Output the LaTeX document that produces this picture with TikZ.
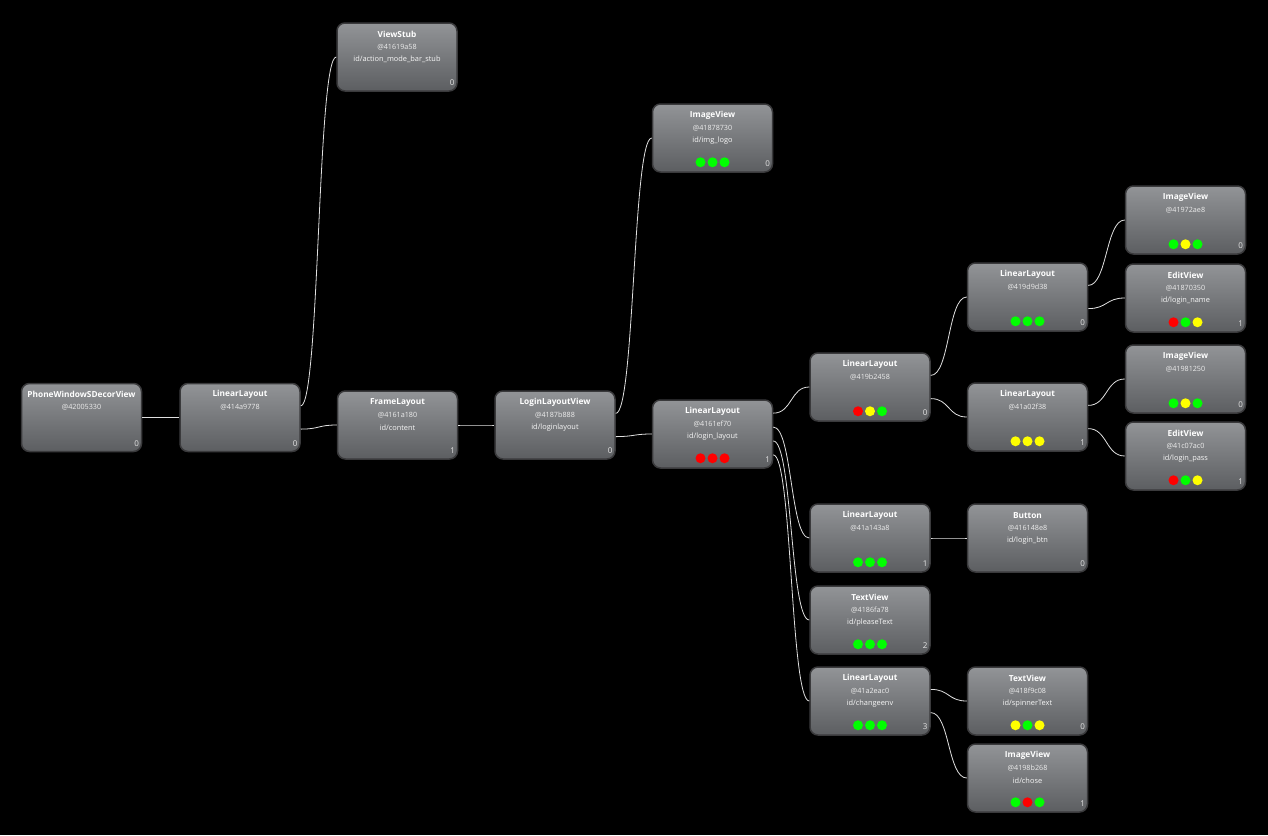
\documentclass[tikz,border=0pt]{standalone}
\usepackage{fontspec}
\setmainfont{Open Sans}
\usepackage{tikz}
\usetikzlibrary{calc}

\definecolor{boxtop}{RGB}{146,148,151}
\definecolor{boxbot}{RGB}{92,94,97}
\definecolor{boxrim}{RGB}{58,58,60}
\definecolor{ledgreen}{RGB}{0,255,0}
\definecolor{ledyellow}{RGB}{255,255,0}
\definecolor{ledred}{RGB}{255,0,0}

% one view box: name, centre, class, address, id, index
\newcommand{\viewnode}[6]{%
  \node[view] (#1) at (#2) {};
  \node[vtitle] (#1-t) at ([yshift=-12pt]#1.north) {#3};
  \node[vaddr] (#1-a) at ([yshift=-24.5pt]#1.north) {#4};
  \node[vid] (#1-i) at ([yshift=-37.5pt]#1.north) {#5};
  \node[vidx] (#1-n) at ([xshift=-3pt,yshift=9pt]#1.south east) {#6};
}
% three status lights under a view box
\newcommand{\lights}[2]{%
  \foreach \c [count=\k] in {#2}
    \fill[\c] ([xshift=(\k-2)*12pt,yshift=10.5pt]#1.south) circle (5pt);
}
% parent exit at a fraction of its right side, into the child's left side
\newcommand{\wireto}[3]{%
  \draw[wire] ($(#1.north east)!#2!(#1.south east)$)
    .. controls +(19,0) and +(-19,0) .. (#3.west);
}

\begin{document}
\begin{tikzpicture}[
    x=1pt, y=-1pt,
    view/.style={draw=boxrim, line width=1.5pt, rounded corners=8pt,
                 top color=boxtop, bottom color=boxbot,
                 minimum width=120pt, minimum height=68pt, inner sep=0pt},
    vtitle/.style={font=\fontsize{8.3}{9}\selectfont\bfseries, text=white, inner sep=0pt},
    vaddr/.style={font=\fontsize{7.2}{8}\selectfont, text=white!93!black, inner sep=0pt},
    vid/.style={font=\fontsize{7.4}{8}\selectfont, text=white!97!black, inner sep=0pt},
    vidx/.style={font=\fontsize{8}{9}\selectfont, text=white!90!black, anchor=east, inner sep=0pt},
    wire/.style={draw=white!88!black, line width=0.8pt}
]
\useasboundingbox[fill=black] (0,0) rectangle (1268,835);

\viewnode{phone}{81.5,417.5}{PhoneWindowSDecorView}{@42005330}{}{0}
\viewnode{decor}{240,417.5}{LinearLayout}{@414a9778}{}{0}
\viewnode{stub}{397,57}{ViewStub}{@41619a58}{id/action\_mode\_bar\_stub}{0}
\viewnode{content}{397.5,425}{FrameLayout}{@4161a180}{id/content}{1}
\viewnode{loginview}{555,425}{LoginLayoutView}{@4187b888}{id/loginlayout}{0}
\viewnode{logo}{712.5,138}{ImageView}{@41878730}{id/img\_logo}{0}
\viewnode{loginlay}{712.5,434}{LinearLayout}{@4161ef70}{id/login\_layout}{1}
\viewnode{fields}{870,387}{LinearLayout}{@419b2458}{}{0}
\viewnode{namerow}{1027.5,297}{LinearLayout}{@419d9d38}{}{0}
\viewnode{passrow}{1027.5,417}{LinearLayout}{@41a02f38}{}{1}
\viewnode{nameicon}{1185.5,220}{ImageView}{@41972ae8}{}{0}
\viewnode{nameedit}{1185.5,298}{EditView}{@41870350}{id/login\_name}{1}
\viewnode{passicon}{1185.5,379}{ImageView}{@41981250}{}{0}
\viewnode{passedit}{1185.5,456}{EditView}{@41c07ac0}{id/login\_pass}{1}
\viewnode{btnrow}{870,538}{LinearLayout}{@41a143a8}{}{1}
\viewnode{loginbtn}{1027.5,538}{Button}{@416148e8}{id/login\_btn}{0}
\viewnode{please}{870,620}{TextView}{@4186fa78}{id/pleaseText}{2}
\viewnode{envrow}{870,701}{LinearLayout}{@41a2eac0}{id/changeenv}{3}
\viewnode{spinner}{1027.5,701}{TextView}{@418f9c08}{id/spinnerText}{0}
\viewnode{chose}{1027.5,778}{ImageView}{@4198b268}{id/chose}{1}

\lights{logo}{ledgreen,ledgreen,ledgreen}
\lights{loginlay}{ledred,ledred,ledred}
\lights{fields}{ledred,ledyellow,ledgreen}
\lights{namerow}{ledgreen,ledgreen,ledgreen}
\lights{passrow}{ledyellow,ledyellow,ledyellow}
\lights{nameicon}{ledgreen,ledyellow,ledgreen}
\lights{nameedit}{ledred,ledgreen,ledyellow}
\lights{passicon}{ledgreen,ledyellow,ledgreen}
\lights{passedit}{ledred,ledgreen,ledyellow}
\lights{btnrow}{ledgreen,ledgreen,ledgreen}
\lights{please}{ledgreen,ledgreen,ledgreen}
\lights{envrow}{ledgreen,ledgreen,ledgreen}
\lights{spinner}{ledyellow,ledgreen,ledyellow}
\lights{chose}{ledgreen,ledred,ledgreen}

\wireto{phone}{0.5}{decor}
\wireto{decor}{0.333}{stub}
\wireto{decor}{0.667}{content}
\wireto{content}{0.5}{loginview}
\wireto{loginview}{0.333}{logo}
\wireto{loginview}{0.667}{loginlay}
\wireto{loginlay}{0.2}{fields}
\wireto{loginlay}{0.4}{btnrow}
\wireto{loginlay}{0.6}{please}
\wireto{loginlay}{0.8}{envrow}
\wireto{fields}{0.333}{namerow}
\wireto{fields}{0.667}{passrow}
\wireto{namerow}{0.333}{nameicon}
\wireto{namerow}{0.667}{nameedit}
\wireto{passrow}{0.333}{passicon}
\wireto{passrow}{0.667}{passedit}
\wireto{btnrow}{0.5}{loginbtn}
\wireto{envrow}{0.333}{spinner}
\wireto{envrow}{0.667}{chose}
\end{tikzpicture}
\end{document}
